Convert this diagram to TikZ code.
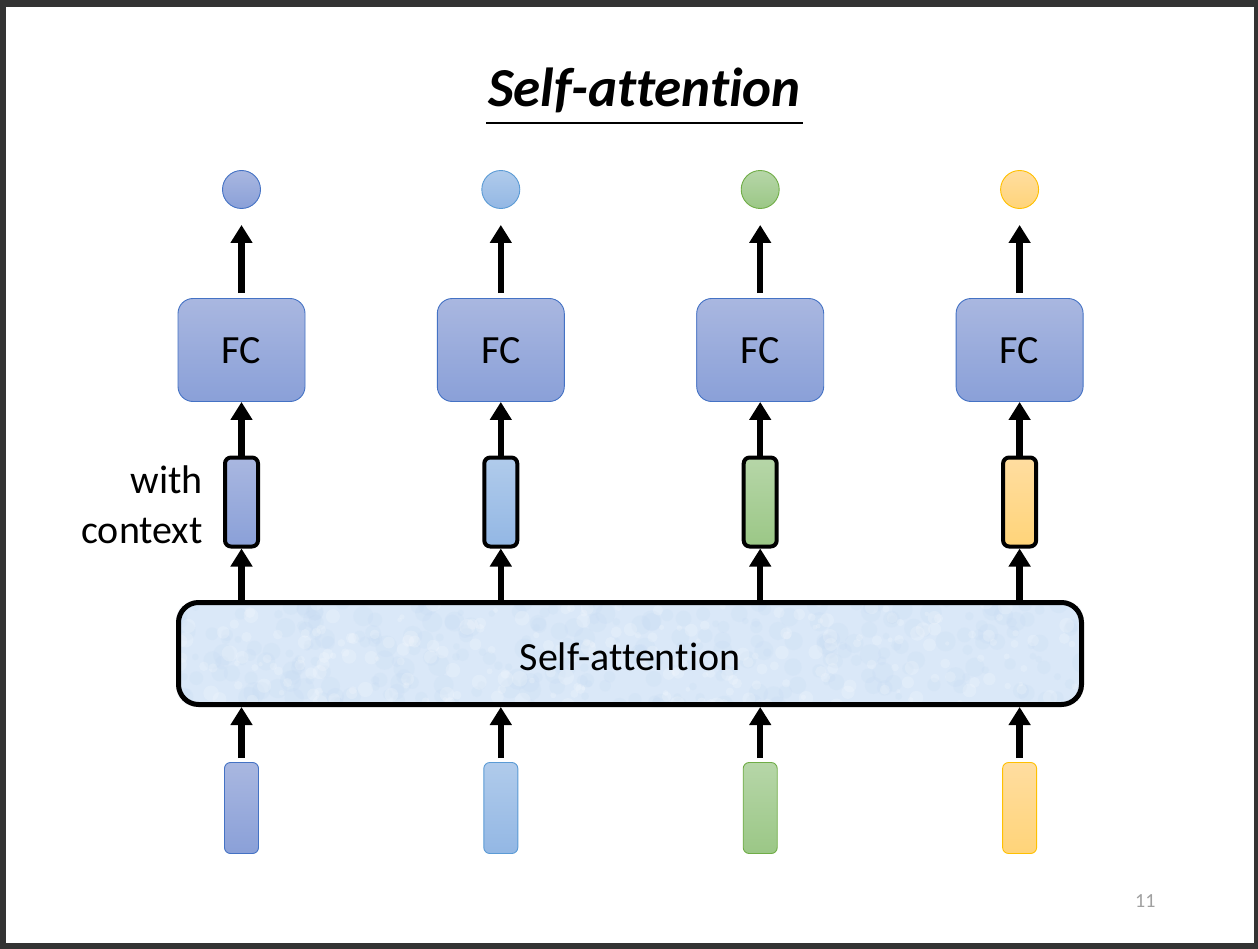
\documentclass[tikz,border=0pt]{standalone}
\usepackage{fontspec}
\setmainfont{Carlito}[Ligatures=NoCommon]
\usetikzlibrary{arrows.meta}
\definecolor{frame}{HTML}{333333}
\definecolor{bAt}{HTML}{A9B7E0}\definecolor{bAb}{HTML}{8AA0D8}\definecolor{bAd}{HTML}{4472C4}
\definecolor{bBt}{HTML}{B0CBEB}\definecolor{bBb}{HTML}{93B7E4}\definecolor{bBd}{HTML}{5B9BD5}
\definecolor{gCt}{HTML}{B6D6A8}\definecolor{gCb}{HTML}{9BC786}\definecolor{gCd}{HTML}{70AD47}
\definecolor{oDt}{HTML}{FFDDA0}\definecolor{oDb}{HTML}{FFD479}\definecolor{oDd}{HTML}{FFC000}
\definecolor{safill}{HTML}{DAE8F8}
\definecolor{sadark}{HTML}{C3D8F2}
\definecolor{pgnum}{HTML}{A0A0A0}
\tikzset{
  outc/.style={circle,minimum size=38pt,inner sep=0pt,line width=0.9pt},
  fcbox/.style={rectangle,rounded corners=15pt,minimum width=127pt,minimum height=103pt,
    inner sep=0pt,draw=bAd,line width=0.9pt,top color=bAt,bottom color=bAb},
  ctxvec/.style={rectangle,rounded corners=6pt,minimum width=33pt,minimum height=89pt,
    inner sep=0pt,draw=black,line width=4pt},
  invec/.style={rectangle,rounded corners=6pt,minimum width=34pt,minimum height=91pt,
    inner sep=0pt,line width=0.9pt},
  sabox/.style={rectangle,rounded corners=20pt,minimum width=903pt,minimum height=102pt,
    inner sep=0pt,line width=5pt},
  arr/.style={line width=6.5pt,-{Triangle[width=21pt,length=18pt]}},
  cA/.style={top color=bAt,bottom color=bAb,draw=bAd},
  cB/.style={top color=bBt,bottom color=bBb,draw=bBd},
  cC/.style={top color=gCt,bottom color=gCb,draw=gCd},
  cD/.style={top color=oDt,bottom color=oDb,draw=oDd},
  lbl/.style={font=\fontsize{40}{48}\selectfont,inner sep=0pt},
}
\begin{document}
\begin{tikzpicture}[x=1pt,y=-1pt]
\useasboundingbox (0,0) rectangle (1258,949);
\fill[frame] (0,0) rectangle (1258,949);
\fill[white] (6,7) rectangle (1254,943);
% title
\node[inner sep=0pt,anchor=base,font=\fontsize{55}{60}\selectfont\bfseries\itshape] (title) at (644.5,107) {Self-attention};
\draw[line width=2.6pt] (486,123) -- (803,123);
% self-attention block with subtle texture
\node[sabox,fill=safill] (sa) at (630,653.5) {};
\begin{scope}
  \clip[rounded corners=20pt] (sa.north west) rectangle (sa.south east);
  \pgfmathsetseed{7}
  \foreach \k in {1,...,300}{
    \pgfmathsetmacro{\px}{178+906*rnd}
    \pgfmathsetmacro{\py}{602+104*rnd}
    \pgfmathsetmacro{\pr}{3+8*rnd}
    \fill[sadark,opacity=0.18] (\px,\py) circle[radius=\pr];
  }
  \foreach \k in {1,...,250}{
    \pgfmathsetmacro{\px}{178+906*rnd}
    \pgfmathsetmacro{\py}{602+104*rnd}
    \pgfmathsetmacro{\pr}{2+6*rnd}
    \fill[white,opacity=0.18] (\px,\py) circle[radius=\pr];
  }
\end{scope}
\node[sabox,draw=black] (saframe) at (sa.center) {};
\node[lbl,anchor=base] (satext) at (630,670) {Self-attention};
% columns
\foreach \i/\x/\c in {1/241.5/cA,2/500.8/cB,3/760.2/cC,4/1019.6/cD}{
  \node[outc,\c] (o\i) at (\x,189.5) {};
  \node[fcbox] (fc\i) at (\x,350) {};
  \node[lbl,anchor=base] (fct\i) at (\x,363) {FC};
  \node[ctxvec,\c,draw=black] (cv\i) at (\x,502) {};
  \node[invec,\c] (iv\i) at (\x,808) {};
  \draw[arr,shorten <=5pt,shorten >=16pt] (fc\i.north) -- (o\i.south);
  \draw[arr] (cv\i.north) -- (fc\i.south);
  \draw[arr] (cv\i.south |- sa.north) -- (cv\i.south);
  \draw[arr,shorten <=4pt] (iv\i.north) -- (iv\i.north |- sa.south);
}
% side label
\node[lbl,anchor=base east] (with) at (203,493) {with};
\node[lbl,anchor=base east] (context) at (203,543) {context};
% page number
\node[inner sep=0pt,anchor=base west,font=\fontsize{20}{24}\selectfont,text=pgnum] (pg) at (1135,907) {11};
\end{tikzpicture}
\end{document}
